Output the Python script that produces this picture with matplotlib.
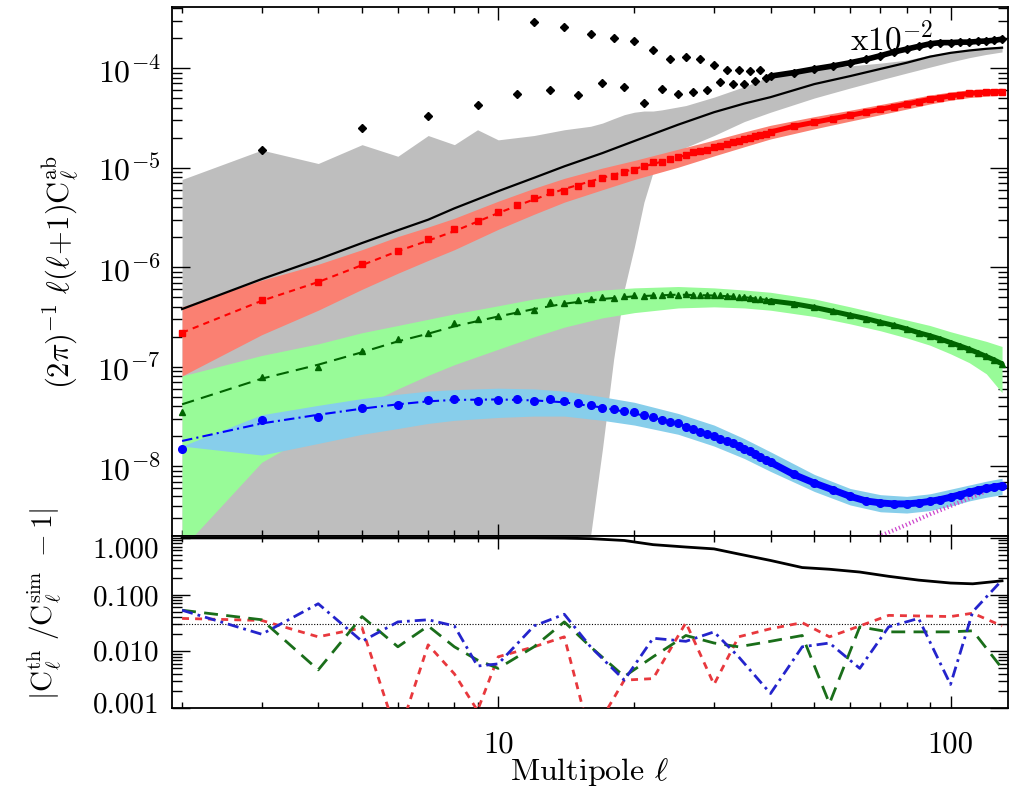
import numpy as np
import matplotlib
matplotlib.use('Agg')
import matplotlib.pyplot as plt
from matplotlib.ticker import FixedLocator, FixedFormatter, NullFormatter, LogLocator
from matplotlib.transforms import ScaledTranslation

plt.rcParams['mathtext.fontset'] = 'cm'
plt.rcParams['font.family'] = ['cmr10', 'DejaVu Serif']
plt.rcParams['axes.formatter.use_mathtext'] = True
plt.rcParams['axes.unicode_minus'] = False

# ---------------- data ----------------
ell_th = [2, 3, 4, 5, 6, 7, 8, 10, 12, 14, 17, 20, 25, 30, 35, 40, 50, 60, 70, 80, 90, 100, 110, 120, 130]
th_tot = [3.8e-7, 7.6e-7, 1.2e-6, 1.75e-6, 2.35e-6, 3.0e-6, 3.9e-6, 5.8e-6, 7.9e-6, 1.03e-5, 1.4e-5, 1.85e-5,
          2.7e-5, 3.6e-5, 4.4e-5, 5.1e-5, 6.9e-5, 8.3e-5, 9.8e-5, 1.13e-4, 1.3e-4, 1.42e-4, 1.5e-4, 1.56e-4, 1.6e-4]
th_red = [2.2e-7, 4.6e-7, 7.1e-7, 1.05e-6, 1.45e-6, 1.85e-6, 2.3e-6, 3.5e-6, 4.8e-6, 6.1e-6, 7.9e-6, 9.7e-6,
          1.27e-5, 1.6e-5, 1.95e-5, 2.3e-5, 2.85e-5, 3.35e-5, 3.85e-5, 4.35e-5, 4.85e-5, 5.25e-5, 5.55e-5, 5.7e-5, 5.8e-5]
th_green = [4.2e-8, 7.6e-8, 1.05e-7, 1.4e-7, 1.8e-7, 2.15e-7, 2.55e-7, 3.2e-7, 3.8e-7, 4.3e-7, 4.8e-7, 5.1e-7,
            5.3e-7, 5.2e-7, 5.0e-7, 4.65e-7, 3.95e-7, 3.3e-7, 2.8e-7, 2.4e-7, 2.05e-7, 1.75e-7, 1.5e-7, 1.28e-7, 1.08e-7]
th_blue = [1.8e-8, 2.7e-8, 3.3e-8, 3.8e-8, 4.2e-8, 4.5e-8, 4.65e-8, 4.7e-8, 4.6e-8, 4.4e-8, 3.9e-8, 3.4e-8,
           2.7e-8, 2.05e-8, 1.5e-8, 1.1e-8, 6.8e-9, 5.0e-9, 4.3e-9, 4.15e-9, 4.4e-9, 4.9e-9, 5.5e-9, 6.0e-9, 6.4e-9]

red_lo = [8.1e-8, 2.1e-7, 3.7e-7, 6.0e-7, 8.7e-7, 1.17e-6, 1.5e-6, 2.4e-6, 3.4e-6, 4.5e-6, 6.0e-6, 7.6e-6,
          1.01e-5, 1.31e-5, 1.62e-5, 1.94e-5, 2.45e-5, 2.93e-5, 3.4e-5, 3.87e-5, 4.35e-5, 4.75e-5, 5.05e-5, 5.22e-5, 5.33e-5]
red_hi = [4.0e-7, 7.4e-7, 1.07e-6, 1.5e-6, 2.03e-6, 2.53e-6, 3.1e-6, 4.6e-6, 6.2e-6, 7.8e-6, 9.9e-6, 1.18e-5,
          1.53e-5, 1.89e-5, 2.28e-5, 2.66e-5, 3.25e-5, 3.77e-5, 4.3e-5, 4.83e-5, 5.35e-5, 5.75e-5, 6.05e-5, 6.2e-5, 6.27e-5]
green_lo = [1.5e-9, 1.1e-8, 2.3e-8, 4.0e-8, 6.0e-8, 8.2e-8, 1.05e-7, 1.5e-7, 2.0e-7, 2.5e-7, 3.1e-7, 3.5e-7,
            3.9e-7, 4.0e-7, 3.9e-7, 3.7e-7, 3.2e-7, 2.7e-7, 2.3e-7, 1.95e-7, 1.65e-7, 1.35e-7, 1.1e-7, 8.5e-8, 5.5e-8]
green_hi = [8.1e-8, 1.3e-7, 1.7e-7, 2.2e-7, 2.6e-7, 3.0e-7, 3.4e-7, 4.1e-7, 4.8e-7, 5.3e-7, 5.9e-7, 6.2e-7,
            6.4e-7, 6.2e-7, 5.9e-7, 5.6e-7, 4.8e-7, 4.0e-7, 3.4e-7, 2.95e-7, 2.6e-7, 2.25e-7, 2.0e-7, 1.8e-7, 1.6e-7]
blue_lo = [1.6e-8, 1.3e-8, 1.7e-8, 2.1e-8, 2.4e-8, 2.7e-8, 2.9e-8, 3.1e-8, 3.2e-8, 3.2e-8, 2.9e-8, 2.6e-8,
           2.1e-8, 1.6e-8, 1.2e-8, 8.9e-9, 5.6e-9, 4.1e-9, 3.5e-9, 3.4e-9, 3.6e-9, 4.0e-9, 4.5e-9, 4.9e-9, 5.2e-9]
blue_hi = [1.6e-8, 3.3e-8, 4.1e-8, 4.8e-8, 5.3e-8, 5.7e-8, 5.9e-8, 6.1e-8, 6.0e-8, 5.7e-8, 5.0e-8, 4.4e-8,
           3.4e-8, 2.6e-8, 1.9e-8, 1.4e-8, 8.3e-9, 6.0e-9, 5.2e-9, 5.0e-9, 5.3e-9, 5.9e-9, 6.5e-9, 7.1e-9, 7.6e-9]

grey_ell = [2, 3, 4, 5, 6, 7, 8, 9, 10, 12, 14, 16, 17, 18, 19, 20, 21, 22, 23, 26, 30, 35, 40, 50, 60, 70, 80,
            90, 100, 110, 120, 130]
grey_hi = [7.6e-6, 1.5e-5, 1.1e-5, 1.7e-5, 1.3e-5, 2.1e-5, 1.7e-5, 2.4e-5, 1.9e-5, 2.1e-5, 2.4e-5, 2.6e-5, 2.8e-5,
           3.1e-5, 3.4e-5, 3.6e-5, 3.7e-5, 3.7e-5, 3.8e-5, 4.2e-5, 5.1e-5, 6.5e-5, 8.3e-5, 9.7e-5, 1.05e-4, 1.12e-4,
           1.2e-4, 1.35e-4, 1.45e-4, 1.53e-4, 1.6e-4, 1.66e-4]
grey_lo = [1e-10, 1e-10, 1e-10, 1e-10, 1e-10, 1e-10, 1e-10, 1e-10, 1e-10, 1e-10, 1e-10, 2e-9, 1.5e-8, 1.2e-7,
           6e-7, 1.6e-6, 4.5e-6, 9e-6, 1.1e-5, 1.6e-5, 2.1e-5, 2.9e-5, 3.6e-5, 5.0e-5, 6.3e-5, 7.6e-5, 8.9e-5,
           1.02e-4, 1.15e-4, 1.27e-4, 1.37e-4, 1.45e-4]

ell_sim = list(range(2, 41)) + [45, 50, 55, 60, 65, 70, 75, 80, 85, 90, 95, 100, 105, 110, 115, 120, 125, 130]
nan = float('nan')
sim_tot = [nan, 1.5e-5, nan, 2.5e-5, nan, 3.3e-5, nan, 4.3e-5, nan, 5.5e-5, 2.9e-4, 6.0e-5, 2.6e-4, 5.4e-5,
           2.2e-4, 7.1e-5, 2.0e-4, 6.4e-5, 1.87e-4, 4.5e-5, 1.5e-4, 6.2e-5, 1.23e-4, 5.5e-5, 1.3e-4, 5.8e-5,
           1.22e-4, 6.0e-5, 1.07e-4, 7.2e-5, 9.5e-5, 6.9e-5, 9.5e-5, 6.9e-5, 9.3e-5, 7.4e-5, 9.5e-5, 7.9e-5, 8.3e-5,
           9.0e-5, 9.8e-5, 1.05e-4, 1.13e-4, 1.22e-4, 1.33e-4, 1.45e-4, 1.55e-4, 1.65e-4, 1.75e-4, 1.8e-4, 1.8e-4,
           1.82e-4, 1.82e-4, 1.85e-4, 1.87e-4, 1.9e-4, 1.95e-4]
sim_red = [2.2e-7, 4.7e-7, 7.1e-7, 1.07e-6, 1.45e-6, 1.9e-6, 2.4e-6, 2.9e-6, 3.6e-6, 4.2e-6, 4.9e-6, 5.7e-6,
           5.8e-6, 6.5e-6, 7.0e-6, 7.8e-6, 8.2e-6, 9.0e-6, 9.5e-6, 1.05e-5, 1.14e-5, 1.15e-5, 1.22e-5, 1.27e-5,
           1.35e-5, 1.42e-5, 1.47e-5, 1.52e-5, 1.6e-5, 1.65e-5, 1.72e-5, 1.8e-5, 1.87e-5, 1.95e-5, 2.0e-5, 2.08e-5,
           2.15e-5, 2.2e-5, 2.28e-5, 2.6e-5, 2.85e-5, 3.1e-5, 3.35e-5, 3.6e-5, 3.85e-5, 4.1e-5, 4.35e-5, 4.6e-5,
           4.85e-5, 5.05e-5, 5.25e-5, 5.4e-5, 5.55e-5, 5.65e-5, 5.7e-5, 5.75e-5, 5.8e-5]
sim_green = [3.5e-8, 7.9e-8, 1.0e-7, 1.44e-7, 1.9e-7, 2.2e-7, 2.75e-7, 3.0e-7, 3.2e-7, 3.6e-7, 3.7e-7, 4.5e-7,
             4.4e-7, 4.7e-7, 4.8e-7, 5.0e-7, 4.9e-7, 5.1e-7, 5.2e-7, 5.1e-7, 5.3e-7, 5.2e-7, 5.4e-7, 5.2e-7, 5.4e-7,
             5.3e-7, 5.3e-7, 5.2e-7, 5.2e-7, 5.2e-7, 5.1e-7, 5.15e-7, 5.0e-7, 5.05e-7, 4.9e-7, 4.85e-7, 4.75e-7,
             4.7e-7, 4.6e-7, 4.3e-7, 3.95e-7, 3.6e-7, 3.3e-7, 3.05e-7, 2.8e-7, 2.6e-7, 2.4e-7, 2.2e-7, 2.05e-7,
             1.9e-7, 1.75e-7, 1.62e-7, 1.5e-7, 1.38e-7, 1.27e-7, 1.17e-7, 1.07e-7]
sim_blue = [1.5e-8, 2.9e-8, 3.1e-8, 3.9e-8, 4.1e-8, 4.6e-8, 4.8e-8, 4.5e-8, 4.6e-8, 4.8e-8, 4.5e-8, 4.7e-8,
            4.5e-8, 4.3e-8, 4.1e-8, 3.9e-8, 3.8e-8, 3.6e-8, 3.5e-8, 3.3e-8, 3.1e-8, 2.9e-8, 2.8e-8, 2.7e-8, 2.5e-8,
            2.4e-8, 2.2e-8, 2.1e-8, 2.0e-8, 1.9e-8, 1.8e-8, 1.7e-8, 1.6e-8, 1.5e-8, 1.42e-8, 1.33e-8, 1.25e-8,
            1.17e-8, 1.1e-8, 8.3e-9, 6.8e-9, 5.8e-9, 5.0e-9, 4.5e-9, 4.3e-9, 4.2e-9, 4.2e-9, 4.3e-9, 4.45e-9,
            4.65e-9, 4.9e-9, 5.2e-9, 5.5e-9, 5.8e-9, 6.0e-9, 6.2e-9, 6.4e-9]

ell_mag = [68, 80, 90, 100, 115, 130]
mag_vals = [1.9e-9, 2.6e-9, 3.3e-9, 4.0e-9, 5.2e-9, 6.6e-9]

ell_ratio = [2, 3, 4, 5, 6, 7, 8, 9, 10, 12, 14, 16, 19, 22, 26, 30, 34, 40, 47, 54, 63, 73, 85, 100, 112, 130]
ratio_tot = [1.0, 1.0, 1.0, 1.0, 1.0, 1.0, 1.0, 1.0, 1.0, 1.0, 0.99, 0.97, 0.9, 0.76, 0.69, 0.64, 0.52, 0.40,
             0.30, 0.28, 0.25, 0.21, 0.18, 0.16, 0.155, 0.175]
ratio_red = [0.038, 0.035, 0.018, 0.026, 0.0003, 0.013, 0.004, 0.0009, 0.008, 0.012, 0.018, 0.0003, 0.0031,
             0.0033, 0.032, 0.0026, 0.018, 0.025, 0.032, 0.018, 0.028, 0.043, 0.042, 0.041, 0.047, 0.028]
ratio_green = [0.053, 0.036, 0.0047, 0.041, 0.012, 0.028, 0.012, 0.007, 0.005, 0.012, 0.033, 0.012, 0.0036,
               0.008, 0.019, 0.014, 0.012, 0.015, 0.019, 0.0012, 0.027, 0.022, 0.022, 0.022, 0.023, 0.005]
ratio_blue = [0.053, 0.020, 0.069, 0.015, 0.033, 0.036, 0.028, 0.0055, 0.006, 0.028, 0.045, 0.012, 0.0031,
              0.017, 0.015, 0.022, 0.008, 0.0018, 0.012, 0.014, 0.005, 0.027, 0.038, 0.0026, 0.05, 0.18]
ratio_ref = 0.03

# ---------------- figure ----------------
W, H = 1013, 803
fig = plt.figure(figsize=(W / 100, H / 100), dpi=100)
L, R = 172, 1008
ax1 = fig.add_axes([L / W, 1 - 537 / H, (R - L) / W, (537 - 8) / H])
ax2 = fig.add_axes([L / W, 1 - 709 / H, (R - L) / W, (709 - 537) / H])

GREY = '#bebebe'
SALMON = '#fa8072'
LGREEN = '#98fb98'
SKY = '#87ceeb'

ax1.fill_between(grey_ell, grey_lo, grey_hi, color=GREY, lw=0, zorder=1)
ax1.fill_between(ell_th, red_lo, red_hi, color=SALMON, lw=0, zorder=2)
ax1.fill_between(ell_th, green_lo, green_hi, color=LGREEN, lw=0, zorder=2)
ax1.fill_between(ell_th, blue_lo, blue_hi, color=SKY, lw=0, zorder=3)

ax1.plot(ell_th, th_tot, color='black', lw=1.6, zorder=5)
ax1.plot(ell_th, th_red, color='red', lw=1.5, dashes=(3, 2.5), zorder=5)
ax1.plot(ell_th, th_green, color='#006400', lw=1.5, dashes=(6, 3.5), zorder=5)
ax1.plot(ell_th, th_blue, color='blue', lw=1.5, dashes=(5, 2, 1, 2), zorder=5)
ax1.plot(ell_mag, mag_vals, color='#cc44cc', lw=3, ls=(0, (0.3, 0.6)), zorder=4)

es = np.array(ell_sim)
hi = es >= 40
for vals, col, mk, ms in [(sim_tot, 'black', 'D', 4.5), (sim_red, 'red', 's', 4),
                          (sim_green, '#006400', '^', 4), (sim_blue, 'blue', 'o', 5.5)]:
    v = np.array(vals)
    ax1.plot(es, v, ls='none', marker=mk, ms=ms, color=col, mec=col, zorder=6)
    ax1.plot(es[hi], v[hi], color=col, lw=ms * 0.9, solid_capstyle='round', zorder=6)

ax1.text(0.861, (537 - 50) / 529, r'$\mathrm{x10^{-2}}$', transform=ax1.transAxes, fontsize=24,
         ha='center', va='baseline', zorder=7)

ax1.set_xscale('log')
ax1.set_yscale('log')
ax1.set_xlim(1.9, 134)
ax1.set_ylim(2.0e-9, 4.1e-4)

ax2.plot(ell_ratio, ratio_tot, color='black', lw=2.0, zorder=5)
ax2.plot(ell_ratio, ratio_red, color='#e8383d', lw=2.0, dashes=(2.5, 2.2), zorder=4)
ax2.plot(ell_ratio, ratio_green, color='#1a6e1a', lw=2.0, dashes=(5, 3), zorder=4)
ax2.plot(ell_ratio, ratio_blue, color='#2424cc', lw=2.0, dashes=(4, 1.8, 1, 1.8), zorder=4)
ax2.axhline(ratio_ref, color='black', lw=0.8, ls=(0, (1, 1.5)), zorder=3)
ax2.set_xscale('log')
ax2.set_yscale('log')
ax2.set_xlim(1.9, 134)
ax2.set_ylim(0.001, 1.08)

for ax in (ax1, ax2):
    for s in ax.spines.values():
        s.set_linewidth(1.3)
    ax.tick_params(which='both', direction='in', top=True, right=True, width=1.0)
    ax.tick_params(axis='y', which='major', length=13)
    ax.tick_params(axis='y', which='minor', length=7)
    ax.tick_params(axis='x', which='major', length=9)
    ax.tick_params(axis='x', which='minor', length=4.5)
    ax.xaxis.set_major_locator(FixedLocator([10, 100]))
    ax.xaxis.set_minor_locator(FixedLocator([2, 3, 4, 5, 6, 7, 8, 9, 20, 30, 40, 50, 60, 70, 80, 90]))
    ax.xaxis.set_minor_formatter(NullFormatter())
    ax.yaxis.set_minor_locator(LogLocator(base=10, subs=np.arange(2, 10), numticks=30))
    ax.yaxis.set_minor_formatter(NullFormatter())

ax1.yaxis.set_major_locator(FixedLocator([1e-8, 1e-7, 1e-6, 1e-5, 1e-4]))
ax1.yaxis.set_major_formatter(FixedFormatter([r'$10^{-8}$', r'$10^{-7}$', r'$10^{-6}$', r'$10^{-5}$', r'$10^{-4}$']))
ax1.xaxis.set_major_formatter(NullFormatter())
ax1.tick_params(axis='y', labelsize=23, pad=8)

ax2.yaxis.set_major_locator(FixedLocator([0.001, 0.01, 0.1, 1.0]))
ax2.yaxis.set_major_formatter(FixedFormatter(['0.001', '0.010', '0.100', '1.000']))
ax2.xaxis.set_major_formatter(FixedFormatter(['10', '100']))
ax2.tick_params(axis='y', labelsize=21, pad=9)
ax2.tick_params(axis='x', labelsize=22, pad=16)

# pull the outermost lower-panel labels inwards, as in the reference
fig.canvas.draw()
yticks2 = ax2.yaxis.get_major_ticks()
shifts = [7, 2, 0, -8]
for tk, dy in zip(yticks2, shifts):
    tk.label1.set_transform(tk.label1.get_transform() + ScaledTranslation(0, dy / 100, fig.dpi_scale_trans))

fig.text(60 / W, 1 - 272 / H, r'$(2\pi)^{-1}\ \ell(\ell\!+\!1)\mathrm{C}_\ell^{\mathrm{ab}}$', rotation=90,
         ha='center', va='center', fontsize=22)
fig.text(45 / W, 1 - 604 / H, r'$|\mathrm{C}_\ell^{\mathrm{th}}\ /\mathrm{C}_\ell^{\mathrm{sim}}\ -1|$',
         rotation=90, ha='center', va='center', fontsize=21)
fig.text(590 / W, 1 - 772 / H, r'Multipole $\ell$', ha='center', va='center', fontsize=23)

fig.savefig('out.png', dpi=100)
